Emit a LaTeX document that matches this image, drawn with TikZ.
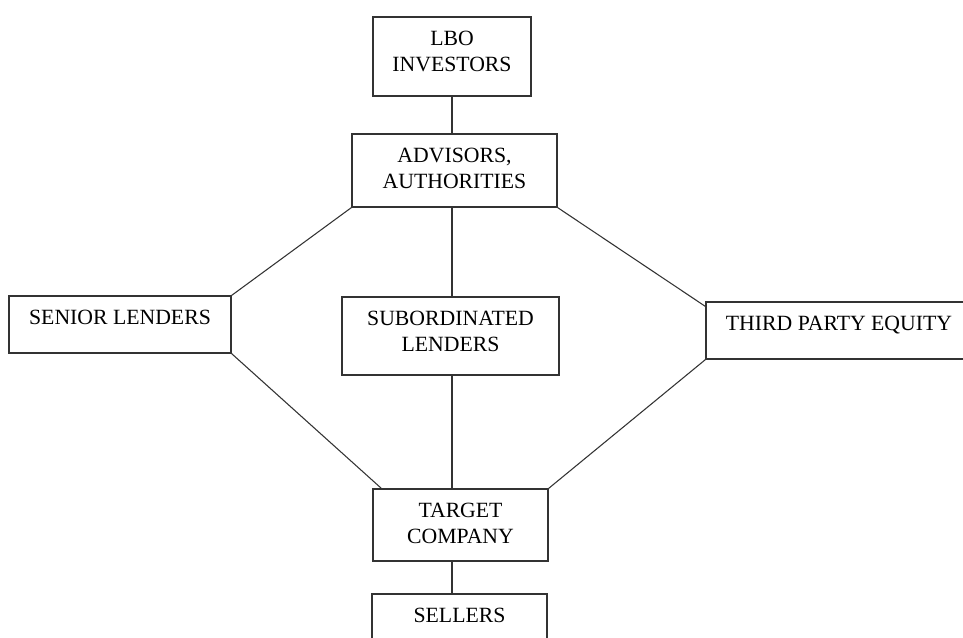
\documentclass[tikz,border=0pt]{standalone}
\usepackage{fontspec}
\setmainfont{Liberation Serif}
\begin{document}
\begin{tikzpicture}[x=0.75pt, y=-0.75pt,
    entity/.style={draw=black!80, line width=0.8pt, inner sep=0pt},
    caption/.style={anchor=north, yshift=-10.9pt, inner sep=0pt, align=center,
        font=\fontsize{16.3}{19.5}\selectfont},
    link/.style={draw=black!80, line width=0.8pt}]
    \clip (0,0) rectangle (963,637);
    \node [entity, minimum width=118.5pt, minimum height=59.25pt,
        label={[caption]north:{LBO\\INVESTORS}}] (inv) at (452,56.5) {};
    \node [entity, minimum width=153.75pt, minimum height=54.75pt,
        label={[caption]north:{ADVISORS,\\AUTHORITIES}}] (adv) at (454.5,170.5) {};
    \node [entity, minimum width=166.5pt, minimum height=42.75pt,
        label={[caption]north:{SENIOR LENDERS}}] (sen) at (120,324.5) {};
    \node [entity, minimum width=162.75pt, minimum height=58.5pt,
        label={[caption]north:{SUBORDINATED\\LENDERS}}] (sub) at (450.5,336) {};
    \node [entity, minimum width=199.5pt, minimum height=42.75pt,
        label={[caption]north:{THIRD PARTY EQUITY}}] (tpe) at (839,330.5) {};
    \node [entity, minimum width=131.25pt, minimum height=54pt,
        label={[caption]north:{TARGET\\COMPANY}}] (tgt) at (460.5,525) {};
    \node [entity, minimum width=131.25pt, minimum height=54pt,
        label={[caption]north:{SELLERS}}] (sel) at (459.5,630) {};
    \draw[link] (inv.south) -- (inv.south |- adv.north);
    \draw[link] (adv.south west) -- (sen.north east);
    \draw[link] (inv.south |- adv.south) -- (inv.south |- sub.north);
    \draw[link] (adv.south east) -- ([yshift=-3.75pt]tpe.north west);
    \draw[link] (sen.south east) -- ([xshift=6.75pt]tgt.north west);
    \draw[link] (tpe.south west) -- (tgt.north east);
    \draw[link] (inv.south |- sub.south) -- (inv.south |- tgt.north);
    \draw[link] (inv.south |- tgt.south) -- (inv.south |- sel.north);
\end{tikzpicture}
\end{document}
